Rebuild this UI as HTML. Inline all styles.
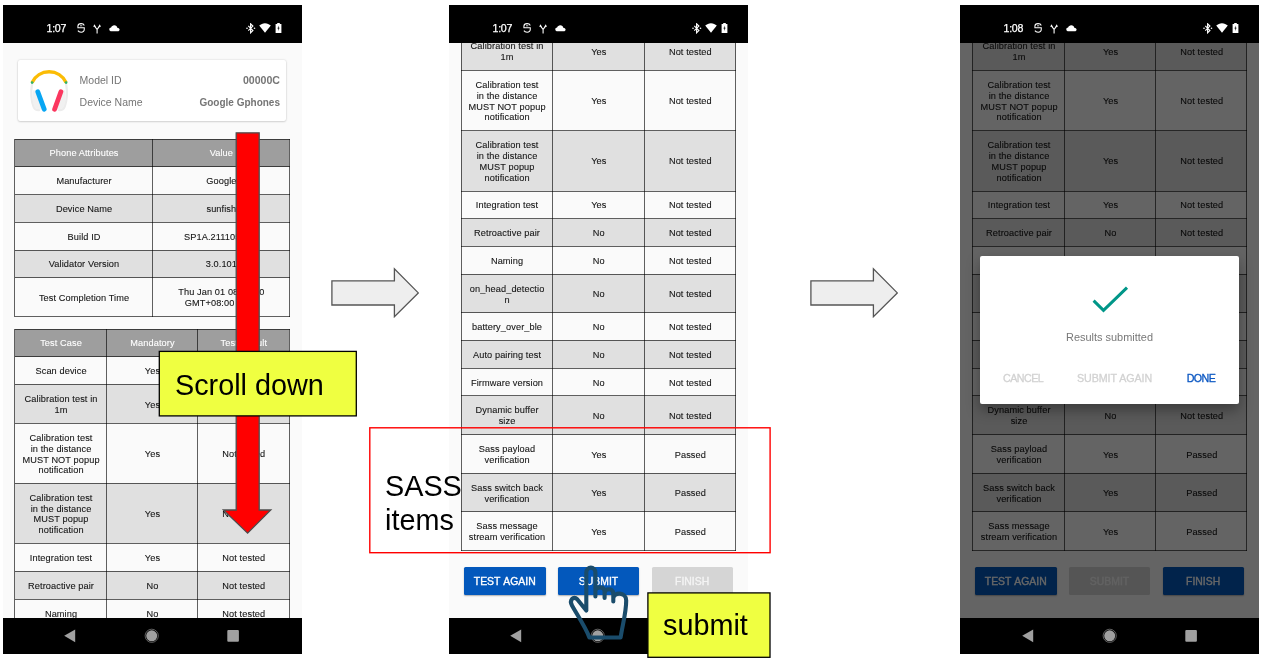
<!DOCTYPE html>
<html><head><meta charset="utf-8"><title>Validator flow</title>
<style>
html,body{margin:0;padding:0}
body{width:1265px;height:663px;background:#fff;position:relative;overflow:hidden;font-family:"Liberation Sans",sans-serif}
.phone{position:absolute;top:5px;width:299px;height:649px;background:#fafafa;overflow:hidden;will-change:transform}
.status{position:absolute;left:0;top:0;width:299px;height:37.5px;background:#000}
.status .time{position:absolute;left:43.6px;top:17.3px;font-size:10.6px;line-height:12px;color:#fff;letter-spacing:-.3px;-webkit-text-stroke:.25px #fff}
.sic{position:absolute}
.nav{position:absolute;left:0;top:612.5px;width:299px;height:36.5px;background:#000}
.row{position:absolute}
.row.hd{background:#9e9e9e;color:#fff}
.row.w{background:#fafafa}
.row.g{background:#e0e0e0}
.cell{position:absolute;top:0;height:100%;display:flex;align-items:center;justify-content:center;text-align:center;font-size:9.2px;line-height:10.9px;color:#151515;padding-top:2.4px;padding-left:.6px;box-sizing:border-box;letter-spacing:.1px;-webkit-text-stroke:.1px currentColor}
.row.hd .cell{color:#fff;padding-top:1.4px}
.p3 .cell{padding-left:2.1px}
.hl{position:absolute;height:1px;background:rgba(0,0,0,.62)}
.vl{position:absolute;width:1px;background:rgba(0,0,0,.62);margin-left:-.5px}
.card{position:absolute;background:#fff;border-radius:2px;box-shadow:0 0 2px rgba(0,0,0,.18),0 1px 2px rgba(0,0,0,.12)}
.cl{position:absolute;font-size:10.5px;line-height:12px;color:#757575;white-space:nowrap}
.cv{position:absolute;font-size:10.1px;line-height:12px;color:#757575;font-weight:bold;white-space:nowrap}
.btn{position:absolute;border-radius:1.5px;display:flex;align-items:center;justify-content:center;font-size:10.4px;font-weight:normal;-webkit-text-stroke:.35px currentColor;color:#fff;letter-spacing:0;word-spacing:.8px;padding-top:1px;box-sizing:border-box}
.btn.on{background:#0358bc;box-shadow:0 1px 1.5px rgba(0,0,0,.3)}
.btn.off{background:#d5d5d5;color:#f4f4f4}
.scrim{position:absolute;left:0;top:0;width:299px;height:649px;background:rgba(0,0,0,.6)}
.dialog{position:absolute;background:#fff;border-radius:2px;box-shadow:0 6px 14px rgba(0,0,0,.35)}
.dmsg{position:absolute;left:0;width:100%;top:75.2px;text-align:center;font-size:10.95px;line-height:12px;color:#787878}
.dbtn{position:absolute;top:115.3px;font-size:10.7px;line-height:12px;font-weight:normal;white-space:nowrap;letter-spacing:-.3px;-webkit-text-stroke:.3px currentColor}
.anno{position:absolute;will-change:transform;font-family:"Liberation Sans",sans-serif;color:#000;white-space:nowrap}
.ylw{position:absolute;background:#efff41;border:1.2px solid #000;box-sizing:border-box}
</style></head>
<body>
<div class="phone" style="left:2.5px">
<div class="card" style="left:15px;top:55px;width:268px;height:61px">
<svg style="position:absolute;left:10px;top:8px" width="44" height="46" viewBox="28 68 44 46">
<path d="M32.2 83 C31 90 31 100 33.5 106.5 C34.5 109 37 110.5 40 110" fill="none" stroke="#ececec" stroke-width="2.2"/>
<path d="M66 83 C67.2 90 67.2 100 64.700 106.5 C63.700 109 61.200 110.500 58.200 110" fill="none" stroke="#ececec" stroke-width="2.2"/>
<path d="M33.5 90 C31.500 96 32.500 104 35.500 108.500 L42.500 110 L36.500 91Z" fill="#f1f1f1"/>
<path d="M64.700 90 C66.700 96 65.700 104 62.700 108.500 L55.700 110 L61.700 91Z" fill="#f1f1f1"/>
<path d="M32.1 82.5 A18.8 18.8 0 0 1 66.1 82.5" fill="none" stroke="#fbbc05" stroke-width="3.3"/>
<circle cx="32.1" cy="82.600" r="1.350" fill="#2fb36a"/><circle cx="66.100" cy="82.600" r="1.350" fill="#2fb36a"/>
<path d="M37.800 91.800 L44.200 109.200" stroke="#08a6f3" stroke-width="4.800" stroke-linecap="round"/>
<path d="M60.900 91.800 L54.600 109.200" stroke="#fb375f" stroke-width="4.800" stroke-linecap="round"/>
</svg>
<div class="cl" style="left:61.6px;top:14.2px">Model ID</div>
<div class="cl" style="left:61.6px;top:36.2px">Device Name</div>
<div class="cv" style="right:6px;top:13.8px;font-size:10.6px">00000C</div>
<div class="cv" style="right:6px;top:37.2px;font-size:10px">Google Gphones</div>
</div>
<div class="row hd" style="left:11.75px;top:134.25px;width:274.65px;height:27.50px">
<div class="cell" style="left:0.00px;width:138.00px">Phone Attributes</div>
<div class="cell" style="left:138.00px;width:136.65px">Value</div>
</div>
<div class="row w" style="left:11.75px;top:161.75px;width:274.65px;height:27.75px">
<div class="cell" style="left:0.00px;width:138.00px">Manufacturer</div>
<div class="cell" style="left:138.00px;width:136.65px">Google</div>
</div>
<div class="row g" style="left:11.75px;top:189.5px;width:274.65px;height:27.75px">
<div class="cell" style="left:0.00px;width:138.00px">Device Name</div>
<div class="cell" style="left:138.00px;width:136.65px">sunfish</div>
</div>
<div class="row w" style="left:11.75px;top:217.25px;width:274.65px;height:27.75px">
<div class="cell" style="left:0.00px;width:138.00px">Build ID</div>
<div class="cell" style="left:138.00px;width:136.65px">SP1A.211105.002</div>
</div>
<div class="row g" style="left:11.75px;top:245px;width:274.65px;height:27.50px">
<div class="cell" style="left:0.00px;width:138.00px">Validator Version</div>
<div class="cell" style="left:138.00px;width:136.65px">3.0.101</div>
</div>
<div class="row w" style="left:11.75px;top:272.5px;width:274.65px;height:38.75px">
<div class="cell" style="left:0.00px;width:138.00px">Test Completion Time</div>
<div class="cell" style="left:138.00px;width:136.65px">Thu Jan 01 08:00:00<br>GMT+08:00 1970</div>
</div>
<div class="hl" style="left:11.75px;top:133.75px;width:275.15px"></div>
<div class="hl" style="left:11.75px;top:161.25px;width:275.15px"></div>
<div class="hl" style="left:11.75px;top:189.00px;width:275.15px"></div>
<div class="hl" style="left:11.75px;top:216.75px;width:275.15px"></div>
<div class="hl" style="left:11.75px;top:244.50px;width:275.15px"></div>
<div class="hl" style="left:11.75px;top:272.00px;width:275.15px"></div>
<div class="hl" style="left:11.75px;top:310.75px;width:275.15px"></div>
<div class="vl" style="left:11.75px;top:133.75px;height:178.00px"></div>
<div class="vl" style="left:149.75px;top:133.75px;height:178.00px"></div>
<div class="vl" style="left:286.40px;top:133.75px;height:178.00px"></div>
<div class="row hd" style="left:11.75px;top:324.25px;width:274.65px;height:27.25px">
<div class="cell" style="left:0.00px;width:92.00px">Test Case</div>
<div class="cell" style="left:92.00px;width:90.85px">Mandatory</div>
<div class="cell" style="left:182.85px;width:91.80px">Test Result</div>
</div>
<div class="row w" style="left:11.75px;top:351.5px;width:274.65px;height:27.75px">
<div class="cell" style="left:0.00px;width:92.00px">Scan device</div>
<div class="cell" style="left:92.00px;width:90.85px">Yes</div>
<div class="cell" style="left:182.85px;width:91.80px">Not tested</div>
</div>
<div class="row g" style="left:11.75px;top:379.25px;width:274.65px;height:39.15px">
<div class="cell" style="left:0.00px;width:92.00px">Calibration test in<br>1m</div>
<div class="cell" style="left:92.00px;width:90.85px">Yes</div>
<div class="cell" style="left:182.85px;width:91.80px">Not tested</div>
</div>
<div class="row w" style="left:11.75px;top:418.4px;width:274.65px;height:59.85px">
<div class="cell" style="left:0.00px;width:92.00px">Calibration test<br>in the distance<br>MUST NOT popup<br>notification</div>
<div class="cell" style="left:92.00px;width:90.85px">Yes</div>
<div class="cell" style="left:182.85px;width:91.80px">Not tested</div>
</div>
<div class="row g" style="left:11.75px;top:478.25px;width:274.65px;height:60.00px">
<div class="cell" style="left:0.00px;width:92.00px">Calibration test<br>in the distance<br>MUST popup<br>notification</div>
<div class="cell" style="left:92.00px;width:90.85px">Yes</div>
<div class="cell" style="left:182.85px;width:91.80px">Not tested</div>
</div>
<div class="row w" style="left:11.75px;top:538.25px;width:274.65px;height:28.00px">
<div class="cell" style="left:0.00px;width:92.00px">Integration test</div>
<div class="cell" style="left:92.00px;width:90.85px">Yes</div>
<div class="cell" style="left:182.85px;width:91.80px">Not tested</div>
</div>
<div class="row g" style="left:11.75px;top:566.25px;width:274.65px;height:27.75px">
<div class="cell" style="left:0.00px;width:92.00px">Retroactive pair</div>
<div class="cell" style="left:92.00px;width:90.85px">No</div>
<div class="cell" style="left:182.85px;width:91.80px">Not tested</div>
</div>
<div class="row w" style="left:11.75px;top:594px;width:274.65px;height:27.75px">
<div class="cell" style="left:0.00px;width:92.00px">Naming</div>
<div class="cell" style="left:92.00px;width:90.85px">No</div>
<div class="cell" style="left:182.85px;width:91.80px">Not tested</div>
</div>
<div class="hl" style="left:11.75px;top:323.75px;width:275.15px"></div>
<div class="hl" style="left:11.75px;top:351.00px;width:275.15px"></div>
<div class="hl" style="left:11.75px;top:378.75px;width:275.15px"></div>
<div class="hl" style="left:11.75px;top:417.90px;width:275.15px"></div>
<div class="hl" style="left:11.75px;top:477.75px;width:275.15px"></div>
<div class="hl" style="left:11.75px;top:537.75px;width:275.15px"></div>
<div class="hl" style="left:11.75px;top:565.75px;width:275.15px"></div>
<div class="hl" style="left:11.75px;top:593.50px;width:275.15px"></div>
<div class="hl" style="left:11.75px;top:621.25px;width:275.15px"></div>
<div class="vl" style="left:11.75px;top:323.75px;height:298.50px"></div>
<div class="vl" style="left:103.75px;top:323.75px;height:298.50px"></div>
<div class="vl" style="left:194.60px;top:323.75px;height:298.50px"></div>
<div class="vl" style="left:286.40px;top:323.75px;height:298.50px"></div>
<div class="status">
<span class="time">1:07</span>
<svg class="sic" style="left:73.7px;top:18.1px" width="8.2" height="10" viewBox="0 0 9 11"><path d="M8 2.700 C7.500 1.300 6.100 .700 4.500 .700 C2.500 .700 1 1.700 1 3.500 L1 5.200 L8 5.200 L8 7 C8 9 6.500 10.100 4.500 10.100 C3 10.100 1.700 9.600 1 8.400" fill="none" stroke="#fff" stroke-width="1.150"/><path d="M3.300 3.100h2.500" stroke="#fff" stroke-width=".9"/></svg>
<svg class="sic" style="left:90.2px;top:18.5px" width="8.2" height="10" viewBox="0 0 9 11"><path d="M4.500 10.400 L4.500 6 L1.700 2.400 M4.500 6 L7.300 2.400" fill="none" stroke="#fff" stroke-width="1.200"/><path d="M.2 3.100 L1.600 .3 L3.200 3.100Z M5.800 3.100 L7.400 .3 L8.800 3.100Z" fill="#fff"/></svg>
<svg class="sic" style="left:106.2px;top:19.6px" width="11" height="7" viewBox="0 0 11 7"><path d="M2.6 6.3 C1.2 6.3 .3 5.5 .3 4.4 C.3 3.4 1.1 2.6 2.1 2.6 C2.6 1.2 3.8 .3 5.2 .3 C6.9 .3 8.2 1.5 8.5 3.1 C9.7 3.1 10.6 3.8 10.6 4.8 C10.6 5.7 9.8 6.3 8.8 6.3Z" fill="#fff"/></svg>
<svg class="sic" style="left:243px;top:17.8px" width="10" height="11" viewBox="0 0 10 11"><path d="M2.300 2.900 L6.900 7.500 L4.600 9.800 L4.600 .800 L6.900 3.100 L2.300 7.700" fill="none" stroke="#fff" stroke-width="1.150"/><circle cx="1" cy="5.300" r=".8" fill="#fff"/><circle cx="8.500" cy="5.300" r=".8" fill="#fff"/></svg>
<svg class="sic" style="left:256px;top:18px" width="12" height="10" viewBox="0 0 12 10"><path d="M6 9.8 L.2 2.6 C1.8 1.1 3.8 .2 6 .2 C8.2 .2 10.2 1.1 11.8 2.6Z" fill="#fff"/></svg>
<svg class="sic" style="left:271.7px;top:18px" width="7" height="10" viewBox="0 0 7 10"><path d="M2.2 0h2.6v1h1.6v9H.6V1h1.6z" fill="#fff"/><path d="M3.9 2.6 L2.4 5.6 H3.4 L3.1 8 L4.6 4.8 H3.6Z" fill="#000"/></svg>
</div>
<div class="nav">
<svg style="position:absolute;left:-0.6px;top:-.5px" width="299" height="37" viewBox="0 0 299 37"><path d="M62.2 18.8 L73.2 12.4 L73.2 25.2Z" fill="#a0a0a0"/><circle cx="149.7" cy="18.8" r="6.6" fill="none" stroke="#a0a0a0" stroke-width=".6"/><circle cx="149.7" cy="18.8" r="5.5" fill="#a0a0a0"/><rect x="225.3" y="13" width="11.6" height="11.7" rx="1" fill="#a0a0a0"/></svg>
</div>
</div>
<div class="phone" style="left:448.5px">
<div class="row g" style="left:12px;top:26.75px;width:274.50px;height:38.50px">
<div class="cell" style="left:0.00px;width:91.50px">Calibration test in<br>1m</div>
<div class="cell" style="left:91.50px;width:92.10px">Yes</div>
<div class="cell" style="left:183.60px;width:90.90px">Not tested</div>
</div>
<div class="row w" style="left:12px;top:65.25px;width:274.50px;height:60.25px">
<div class="cell" style="left:0.00px;width:91.50px">Calibration test<br>in the distance<br>MUST NOT popup<br>notification</div>
<div class="cell" style="left:91.50px;width:92.10px">Yes</div>
<div class="cell" style="left:183.60px;width:90.90px">Not tested</div>
</div>
<div class="row g" style="left:12px;top:125.5px;width:274.50px;height:60.50px">
<div class="cell" style="left:0.00px;width:91.50px">Calibration test<br>in the distance<br>MUST popup<br>notification</div>
<div class="cell" style="left:91.50px;width:92.10px">Yes</div>
<div class="cell" style="left:183.60px;width:90.90px">Not tested</div>
</div>
<div class="row w" style="left:12px;top:186px;width:274.50px;height:27.50px">
<div class="cell" style="left:0.00px;width:91.50px">Integration test</div>
<div class="cell" style="left:91.50px;width:92.10px">Yes</div>
<div class="cell" style="left:183.60px;width:90.90px">Not tested</div>
</div>
<div class="row g" style="left:12px;top:213.5px;width:274.50px;height:27.75px">
<div class="cell" style="left:0.00px;width:91.50px">Retroactive pair</div>
<div class="cell" style="left:91.50px;width:92.10px">No</div>
<div class="cell" style="left:183.60px;width:90.90px">Not tested</div>
</div>
<div class="row w" style="left:12px;top:241.25px;width:274.50px;height:28.00px">
<div class="cell" style="left:0.00px;width:91.50px">Naming</div>
<div class="cell" style="left:91.50px;width:92.10px">No</div>
<div class="cell" style="left:183.60px;width:90.90px">Not tested</div>
</div>
<div class="row g" style="left:12px;top:269.25px;width:274.50px;height:38.25px">
<div class="cell" style="left:0.00px;width:91.50px">on_head_detectio<br>n</div>
<div class="cell" style="left:91.50px;width:92.10px">No</div>
<div class="cell" style="left:183.60px;width:90.90px">Not tested</div>
</div>
<div class="row w" style="left:12px;top:307.5px;width:274.50px;height:27.75px">
<div class="cell" style="left:0.00px;width:91.50px">battery_over_ble</div>
<div class="cell" style="left:91.50px;width:92.10px">No</div>
<div class="cell" style="left:183.60px;width:90.90px">Not tested</div>
</div>
<div class="row g" style="left:12px;top:335.25px;width:274.50px;height:27.75px">
<div class="cell" style="left:0.00px;width:91.50px">Auto pairing test</div>
<div class="cell" style="left:91.50px;width:92.10px">No</div>
<div class="cell" style="left:183.60px;width:90.90px">Not tested</div>
</div>
<div class="row w" style="left:12px;top:363px;width:274.50px;height:27.75px">
<div class="cell" style="left:0.00px;width:91.50px">Firmware version</div>
<div class="cell" style="left:91.50px;width:92.10px">No</div>
<div class="cell" style="left:183.60px;width:90.90px">Not tested</div>
</div>
<div class="row g" style="left:12px;top:390.75px;width:274.50px;height:38.75px">
<div class="cell" style="left:0.00px;width:91.50px">Dynamic buffer<br>size</div>
<div class="cell" style="left:91.50px;width:92.10px">No</div>
<div class="cell" style="left:183.60px;width:90.90px">Not tested</div>
</div>
<div class="row w" style="left:12px;top:429.5px;width:274.50px;height:38.75px">
<div class="cell" style="left:0.00px;width:91.50px">Sass payload<br>verification</div>
<div class="cell" style="left:91.50px;width:92.10px">Yes</div>
<div class="cell" style="left:183.60px;width:90.90px">Passed</div>
</div>
<div class="row g" style="left:12px;top:468.25px;width:274.50px;height:38.50px">
<div class="cell" style="left:0.00px;width:91.50px">Sass switch back<br>verification</div>
<div class="cell" style="left:91.50px;width:92.10px">Yes</div>
<div class="cell" style="left:183.60px;width:90.90px">Passed</div>
</div>
<div class="row w" style="left:12px;top:506.75px;width:274.50px;height:38.50px">
<div class="cell" style="left:0.00px;width:91.50px">Sass message<br>stream verification</div>
<div class="cell" style="left:91.50px;width:92.10px">Yes</div>
<div class="cell" style="left:183.60px;width:90.90px">Passed</div>
</div>
<div class="hl" style="left:12px;top:26.25px;width:275.00px"></div>
<div class="hl" style="left:12px;top:64.75px;width:275.00px"></div>
<div class="hl" style="left:12px;top:125.00px;width:275.00px"></div>
<div class="hl" style="left:12px;top:185.50px;width:275.00px"></div>
<div class="hl" style="left:12px;top:213.00px;width:275.00px"></div>
<div class="hl" style="left:12px;top:240.75px;width:275.00px"></div>
<div class="hl" style="left:12px;top:268.75px;width:275.00px"></div>
<div class="hl" style="left:12px;top:307.00px;width:275.00px"></div>
<div class="hl" style="left:12px;top:334.75px;width:275.00px"></div>
<div class="hl" style="left:12px;top:362.50px;width:275.00px"></div>
<div class="hl" style="left:12px;top:390.25px;width:275.00px"></div>
<div class="hl" style="left:12px;top:429.00px;width:275.00px"></div>
<div class="hl" style="left:12px;top:467.75px;width:275.00px"></div>
<div class="hl" style="left:12px;top:506.25px;width:275.00px"></div>
<div class="hl" style="left:12px;top:544.75px;width:275.00px"></div>
<div class="vl" style="left:12.00px;top:26.25px;height:519.50px"></div>
<div class="vl" style="left:103.50px;top:26.25px;height:519.50px"></div>
<div class="vl" style="left:195.60px;top:26.25px;height:519.50px"></div>
<div class="vl" style="left:286.50px;top:26.25px;height:519.50px"></div>
<div class="btn on" style="left:15px;top:562.2px;width:81.50px;height:27.8px">TEST AGAIN</div>
<div class="btn on" style="left:108.75px;top:562.2px;width:81.50px;height:27.8px">SUBMIT</div>
<div class="btn off" style="left:202.5px;top:562.2px;width:81.25px;height:27.8px">FINISH</div>
<div class="status">
<span class="time">1:07</span>
<svg class="sic" style="left:73.7px;top:18.1px" width="8.2" height="10" viewBox="0 0 9 11"><path d="M8 2.700 C7.500 1.300 6.100 .700 4.500 .700 C2.500 .700 1 1.700 1 3.500 L1 5.200 L8 5.200 L8 7 C8 9 6.500 10.100 4.500 10.100 C3 10.100 1.700 9.600 1 8.400" fill="none" stroke="#fff" stroke-width="1.150"/><path d="M3.300 3.100h2.500" stroke="#fff" stroke-width=".9"/></svg>
<svg class="sic" style="left:90.2px;top:18.5px" width="8.2" height="10" viewBox="0 0 9 11"><path d="M4.500 10.400 L4.500 6 L1.700 2.400 M4.500 6 L7.300 2.400" fill="none" stroke="#fff" stroke-width="1.200"/><path d="M.2 3.100 L1.600 .3 L3.200 3.100Z M5.800 3.100 L7.400 .3 L8.800 3.100Z" fill="#fff"/></svg>
<svg class="sic" style="left:106.2px;top:19.6px" width="11" height="7" viewBox="0 0 11 7"><path d="M2.6 6.3 C1.2 6.3 .3 5.5 .3 4.4 C.3 3.4 1.1 2.6 2.1 2.6 C2.6 1.2 3.8 .3 5.2 .3 C6.9 .3 8.2 1.5 8.5 3.1 C9.7 3.1 10.6 3.8 10.6 4.8 C10.6 5.7 9.8 6.3 8.8 6.3Z" fill="#fff"/></svg>
<svg class="sic" style="left:243px;top:17.8px" width="10" height="11" viewBox="0 0 10 11"><path d="M2.300 2.900 L6.900 7.500 L4.600 9.800 L4.600 .800 L6.900 3.100 L2.300 7.700" fill="none" stroke="#fff" stroke-width="1.150"/><circle cx="1" cy="5.300" r=".8" fill="#fff"/><circle cx="8.500" cy="5.300" r=".8" fill="#fff"/></svg>
<svg class="sic" style="left:256px;top:18px" width="12" height="10" viewBox="0 0 12 10"><path d="M6 9.8 L.2 2.6 C1.8 1.1 3.8 .2 6 .2 C8.2 .2 10.2 1.1 11.8 2.6Z" fill="#fff"/></svg>
<svg class="sic" style="left:271.7px;top:18px" width="7" height="10" viewBox="0 0 7 10"><path d="M2.2 0h2.6v1h1.6v9H.6V1h1.6z" fill="#fff"/><path d="M3.9 2.6 L2.4 5.6 H3.4 L3.1 8 L4.6 4.8 H3.6Z" fill="#000"/></svg>
</div>
<div class="nav">
<svg style="position:absolute;left:-0.6px;top:-.5px" width="299" height="37" viewBox="0 0 299 37"><path d="M62.2 18.8 L73.2 12.4 L73.2 25.2Z" fill="#a0a0a0"/><circle cx="149.7" cy="18.8" r="6.6" fill="none" stroke="#a0a0a0" stroke-width=".6"/><circle cx="149.7" cy="18.8" r="5.5" fill="#a0a0a0"/><rect x="225.3" y="13" width="11.6" height="11.7" rx="1" fill="#a0a0a0"/></svg>
</div>
</div>
<div class="phone p3" style="left:960.25px">
<div class="row g" style="left:12px;top:26.75px;width:274.50px;height:38.50px">
<div class="cell" style="left:0.00px;width:92.00px">Calibration test in<br>1m</div>
<div class="cell" style="left:92.00px;width:91.00px">Yes</div>
<div class="cell" style="left:183.00px;width:91.50px">Not tested</div>
</div>
<div class="row w" style="left:12px;top:65.25px;width:274.50px;height:60.25px">
<div class="cell" style="left:0.00px;width:92.00px">Calibration test<br>in the distance<br>MUST NOT popup<br>notification</div>
<div class="cell" style="left:92.00px;width:91.00px">Yes</div>
<div class="cell" style="left:183.00px;width:91.50px">Not tested</div>
</div>
<div class="row g" style="left:12px;top:125.5px;width:274.50px;height:60.50px">
<div class="cell" style="left:0.00px;width:92.00px">Calibration test<br>in the distance<br>MUST popup<br>notification</div>
<div class="cell" style="left:92.00px;width:91.00px">Yes</div>
<div class="cell" style="left:183.00px;width:91.50px">Not tested</div>
</div>
<div class="row w" style="left:12px;top:186px;width:274.50px;height:27.50px">
<div class="cell" style="left:0.00px;width:92.00px">Integration test</div>
<div class="cell" style="left:92.00px;width:91.00px">Yes</div>
<div class="cell" style="left:183.00px;width:91.50px">Not tested</div>
</div>
<div class="row g" style="left:12px;top:213.5px;width:274.50px;height:27.75px">
<div class="cell" style="left:0.00px;width:92.00px">Retroactive pair</div>
<div class="cell" style="left:92.00px;width:91.00px">No</div>
<div class="cell" style="left:183.00px;width:91.50px">Not tested</div>
</div>
<div class="row w" style="left:12px;top:241.25px;width:274.50px;height:28.00px">
<div class="cell" style="left:0.00px;width:92.00px">Naming</div>
<div class="cell" style="left:92.00px;width:91.00px">No</div>
<div class="cell" style="left:183.00px;width:91.50px">Not tested</div>
</div>
<div class="row g" style="left:12px;top:269.25px;width:274.50px;height:38.25px">
<div class="cell" style="left:0.00px;width:92.00px">on_head_detectio<br>n</div>
<div class="cell" style="left:92.00px;width:91.00px">No</div>
<div class="cell" style="left:183.00px;width:91.50px">Not tested</div>
</div>
<div class="row w" style="left:12px;top:307.5px;width:274.50px;height:27.75px">
<div class="cell" style="left:0.00px;width:92.00px">battery_over_ble</div>
<div class="cell" style="left:92.00px;width:91.00px">No</div>
<div class="cell" style="left:183.00px;width:91.50px">Not tested</div>
</div>
<div class="row g" style="left:12px;top:335.25px;width:274.50px;height:27.75px">
<div class="cell" style="left:0.00px;width:92.00px">Auto pairing test</div>
<div class="cell" style="left:92.00px;width:91.00px">No</div>
<div class="cell" style="left:183.00px;width:91.50px">Not tested</div>
</div>
<div class="row w" style="left:12px;top:363px;width:274.50px;height:27.75px">
<div class="cell" style="left:0.00px;width:92.00px">Firmware version</div>
<div class="cell" style="left:92.00px;width:91.00px">No</div>
<div class="cell" style="left:183.00px;width:91.50px">Not tested</div>
</div>
<div class="row g" style="left:12px;top:390.75px;width:274.50px;height:38.75px">
<div class="cell" style="left:0.00px;width:92.00px">Dynamic buffer<br>size</div>
<div class="cell" style="left:92.00px;width:91.00px">No</div>
<div class="cell" style="left:183.00px;width:91.50px">Not tested</div>
</div>
<div class="row w" style="left:12px;top:429.5px;width:274.50px;height:38.75px">
<div class="cell" style="left:0.00px;width:92.00px">Sass payload<br>verification</div>
<div class="cell" style="left:92.00px;width:91.00px">Yes</div>
<div class="cell" style="left:183.00px;width:91.50px">Passed</div>
</div>
<div class="row g" style="left:12px;top:468.25px;width:274.50px;height:38.50px">
<div class="cell" style="left:0.00px;width:92.00px">Sass switch back<br>verification</div>
<div class="cell" style="left:92.00px;width:91.00px">Yes</div>
<div class="cell" style="left:183.00px;width:91.50px">Passed</div>
</div>
<div class="row w" style="left:12px;top:506.75px;width:274.50px;height:38.50px">
<div class="cell" style="left:0.00px;width:92.00px">Sass message<br>stream verification</div>
<div class="cell" style="left:92.00px;width:91.00px">Yes</div>
<div class="cell" style="left:183.00px;width:91.50px">Passed</div>
</div>
<div class="hl" style="left:12px;top:26.25px;width:275.00px"></div>
<div class="hl" style="left:12px;top:64.75px;width:275.00px"></div>
<div class="hl" style="left:12px;top:125.00px;width:275.00px"></div>
<div class="hl" style="left:12px;top:185.50px;width:275.00px"></div>
<div class="hl" style="left:12px;top:213.00px;width:275.00px"></div>
<div class="hl" style="left:12px;top:240.75px;width:275.00px"></div>
<div class="hl" style="left:12px;top:268.75px;width:275.00px"></div>
<div class="hl" style="left:12px;top:307.00px;width:275.00px"></div>
<div class="hl" style="left:12px;top:334.75px;width:275.00px"></div>
<div class="hl" style="left:12px;top:362.50px;width:275.00px"></div>
<div class="hl" style="left:12px;top:390.25px;width:275.00px"></div>
<div class="hl" style="left:12px;top:429.00px;width:275.00px"></div>
<div class="hl" style="left:12px;top:467.75px;width:275.00px"></div>
<div class="hl" style="left:12px;top:506.25px;width:275.00px"></div>
<div class="hl" style="left:12px;top:544.75px;width:275.00px"></div>
<div class="vl" style="left:12.00px;top:26.25px;height:519.50px"></div>
<div class="vl" style="left:104.00px;top:26.25px;height:519.50px"></div>
<div class="vl" style="left:195.00px;top:26.25px;height:519.50px"></div>
<div class="vl" style="left:286.50px;top:26.25px;height:519.50px"></div>
<div class="btn on" style="left:15px;top:562.2px;width:81.50px;height:27.8px">TEST AGAIN</div>
<div class="btn off" style="left:108.75px;top:562.2px;width:81.50px;height:27.8px">SUBMIT</div>
<div class="btn on" style="left:202.5px;top:562.2px;width:81.25px;height:27.8px">FINISH</div>
<div class="scrim"></div>
<div class="dialog" style="left:19.75px;top:251.25px;width:259.5px;height:147.5px">
<svg style="position:absolute;left:108px;top:26px" width="44" height="34" viewBox="1088 282 44 34"><path d="M1093.6 300.6 L1103.5 310.4 L1127 287.6" fill="none" stroke="#009688" stroke-width="3"/></svg>
<div class="dmsg">Results submitted</div>
<div class="dbtn" style="left:23.2px;color:#d2d2d2;letter-spacing:-.5px">CANCEL</div>
<div class="dbtn" style="left:97.2px;color:#d2d2d2;letter-spacing:-.05px">SUBMIT AGAIN</div>
<div class="dbtn" style="left:207px;color:#0b57c2;letter-spacing:-.6px">DONE</div>
</div>
<div class="status">
<span class="time">1:08</span>
<svg class="sic" style="left:73.7px;top:18.1px" width="8.2" height="10" viewBox="0 0 9 11"><path d="M8 2.700 C7.500 1.300 6.100 .700 4.500 .700 C2.500 .700 1 1.700 1 3.500 L1 5.200 L8 5.200 L8 7 C8 9 6.500 10.100 4.500 10.100 C3 10.100 1.700 9.600 1 8.400" fill="none" stroke="#fff" stroke-width="1.150"/><path d="M3.300 3.100h2.500" stroke="#fff" stroke-width=".9"/></svg>
<svg class="sic" style="left:90.2px;top:18.5px" width="8.2" height="10" viewBox="0 0 9 11"><path d="M4.500 10.400 L4.500 6 L1.700 2.400 M4.500 6 L7.300 2.400" fill="none" stroke="#fff" stroke-width="1.200"/><path d="M.2 3.100 L1.600 .3 L3.200 3.100Z M5.800 3.100 L7.400 .3 L8.800 3.100Z" fill="#fff"/></svg>
<svg class="sic" style="left:106.2px;top:19.6px" width="11" height="7" viewBox="0 0 11 7"><path d="M2.6 6.3 C1.2 6.3 .3 5.5 .3 4.4 C.3 3.4 1.1 2.6 2.1 2.6 C2.6 1.2 3.8 .3 5.2 .3 C6.9 .3 8.2 1.5 8.5 3.1 C9.7 3.1 10.6 3.8 10.6 4.8 C10.6 5.7 9.8 6.3 8.8 6.3Z" fill="#fff"/></svg>
<svg class="sic" style="left:243px;top:17.8px" width="10" height="11" viewBox="0 0 10 11"><path d="M2.300 2.900 L6.900 7.500 L4.600 9.800 L4.600 .800 L6.900 3.100 L2.300 7.700" fill="none" stroke="#fff" stroke-width="1.150"/><circle cx="1" cy="5.300" r=".8" fill="#fff"/><circle cx="8.500" cy="5.300" r=".8" fill="#fff"/></svg>
<svg class="sic" style="left:256px;top:18px" width="12" height="10" viewBox="0 0 12 10"><path d="M6 9.8 L.2 2.6 C1.8 1.1 3.8 .2 6 .2 C8.2 .2 10.2 1.1 11.8 2.6Z" fill="#fff"/></svg>
<svg class="sic" style="left:271.7px;top:18px" width="7" height="10" viewBox="0 0 7 10"><path d="M2.2 0h2.6v1h1.6v9H.6V1h1.6z" fill="#fff"/><path d="M3.9 2.6 L2.4 5.6 H3.4 L3.1 8 L4.6 4.8 H3.6Z" fill="#000"/></svg>
</div>
<div class="nav">
<svg style="position:absolute;left:0.15px;top:-.5px" width="299" height="37" viewBox="0 0 299 37"><path d="M62.2 18.8 L73.2 12.4 L73.2 25.2Z" fill="#a0a0a0"/><circle cx="149.7" cy="18.8" r="6.6" fill="none" stroke="#a0a0a0" stroke-width=".6"/><circle cx="149.7" cy="18.8" r="5.5" fill="#a0a0a0"/><rect x="225.3" y="13" width="11.6" height="11.7" rx="1" fill="#a0a0a0"/></svg>
</div>
</div>
<svg style="position:absolute;left:215px;top:125px" width="65" height="415" viewBox="215 125 65 415"><path d="M236.2 132.8 H259.2 V510 H270.8 L247.6 533.2 L223.4 510 H236.2Z" fill="#ff0000" stroke="#4d4d4d" stroke-width="1.3" stroke-linejoin="miter"/></svg>
<svg style="position:absolute;left:150px;top:345px" width="215" height="80" viewBox="150 345 215 80"><rect x="159.3" y="351.4" width="197" height="64.5" fill="#efff41" stroke="#000" stroke-width="1.3"/></svg>
<div class="anno" style="left:174.9px;top:367px;font-size:28.8px;line-height:34px;transform:scaleY(1.045);transform-origin:0 0">Scroll down</div>
<svg style="position:absolute;left:325px;top:262px" width="100" height="62" viewBox="325 262 100 62"><path d="M331.9 280.8 H394.4 V268.8 L418.3 292.9 L394.4 316.8 V305 H331.9Z" fill="#eeeeee" stroke="#555" stroke-width="1.3"/></svg>
<svg style="position:absolute;left:803.9px;top:262px" width="100" height="62" viewBox="325 262 100 62"><path d="M331.9 280.8 H394.4 V268.8 L418.3 292.9 L394.4 316.8 V305 H331.9Z" fill="#eeeeee" stroke="#555" stroke-width="1.3"/></svg>
<svg style="position:absolute;left:360px;top:420px" width="420" height="140" viewBox="360 420 420 140"><rect x="369.8" y="427.8" width="400.3" height="124.9" fill="none" stroke="#ff0000" stroke-width="1.4"/></svg>
<div class="anno" style="left:384.6px;top:469px;font-size:28.8px;line-height:32.4px;white-space:normal;width:90px;transform:scaleY(1.045);transform-origin:0 0">SASS<br>items</div>
<svg style="position:absolute;left:560px;top:558px" width="76" height="88" viewBox="560 558 76 88"><path d="M586.3 610.5 L586.3 572.6 C586.3 566 595.4 566 595.4 572.6 L595.4 596.4 L595.4 591 C595.4 586.2 604.6 586.2 604.6 591 L604.6 598 L604.6 593.2 C604.6 588 613.3 588 613.3 593.2 L613.3 601.5 L613.3 598.5 C613.3 591.8 626.2 591.6 626.2 600.5 C626.2 613 622.6 624 620.6 637.5 L589.4 637.5 C586 628 577 614.500 572 605.5 C569 600 573.500 595.5 577.200 599.200 L586.3 610.5" fill="none" stroke="#1a4c6b" stroke-width="4.1" stroke-linejoin="round" stroke-linecap="round"/></svg>
<svg style="position:absolute;left:640px;top:585px" width="140" height="78" viewBox="640 585 140 78"><rect x="647.9" y="592.9" width="122.1" height="64.4" fill="#efff41" stroke="#000" stroke-width="1.3"/></svg>
<div class="anno" style="left:662.8px;top:607.2px;font-size:28.8px;line-height:34px;transform:scaleY(1.045);transform-origin:0 0">submit</div>
</body></html>
